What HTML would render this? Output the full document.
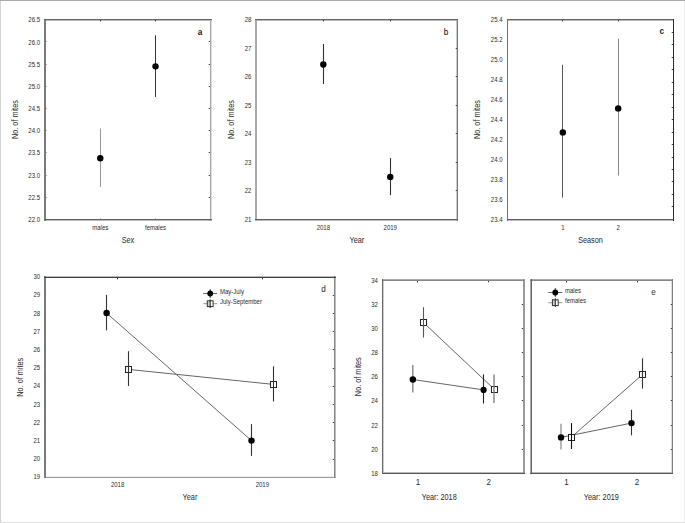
<!DOCTYPE html>
<html><head><meta charset="utf-8"><style>
html,body{margin:0;padding:0;background:#fff;}
body{width:685px;height:523px;overflow:hidden;}
svg{display:block;font-family:"Liberation Sans", sans-serif;}
</style></head><body>
<svg width="685" height="523" viewBox="0 0 685 523">
<rect x="0" y="0" width="685" height="523" fill="#fff"/>
<rect x="211" y="19" width="1" height="202" fill="#ddd" shape-rendering="crispEdges"/>
<rect x="44" y="20" width="168" height="1" fill="#bbb" shape-rendering="crispEdges"/>
<rect x="44" y="220" width="168" height="1" fill="#bbb" shape-rendering="crispEdges"/>
<rect x="210" y="19" width="1" height="202" fill="#aaa" shape-rendering="crispEdges"/>
<rect x="44" y="19" width="1" height="202" fill="#7a7a7a" shape-rendering="crispEdges"/>
<rect x="45" y="19" width="1" height="202" fill="#7a7a7a" shape-rendering="crispEdges"/>
<rect x="44" y="19" width="168" height="1" fill="#666" shape-rendering="crispEdges"/>
<rect x="44" y="219" width="168" height="1" fill="#606060" shape-rendering="crispEdges"/>
<text x="0" y="0" transform="translate(40.00 221.98) scale(1 1.18)" font-size="6.0" text-anchor="end" fill="#2a2a2a" font-weight="normal">22.0</text>
<rect x="46" y="197" width="1" height="1" fill="#aaa" shape-rendering="crispEdges"/>
<rect x="209" y="197" width="1" height="1" fill="#444" shape-rendering="crispEdges"/>
<rect x="208" y="197" width="1" height="1" fill="#ccc" shape-rendering="crispEdges"/>
<text x="0" y="0" transform="translate(40.00 199.81) scale(1 1.18)" font-size="6.0" text-anchor="end" fill="#2a2a2a" font-weight="normal">22.5</text>
<rect x="46" y="175" width="1" height="1" fill="#aaa" shape-rendering="crispEdges"/>
<rect x="209" y="175" width="1" height="1" fill="#444" shape-rendering="crispEdges"/>
<rect x="208" y="175" width="1" height="1" fill="#ccc" shape-rendering="crispEdges"/>
<text x="0" y="0" transform="translate(40.00 177.63) scale(1 1.18)" font-size="6.0" text-anchor="end" fill="#2a2a2a" font-weight="normal">23.0</text>
<rect x="46" y="152" width="1" height="1" fill="#aaa" shape-rendering="crispEdges"/>
<rect x="209" y="152" width="1" height="1" fill="#444" shape-rendering="crispEdges"/>
<rect x="208" y="152" width="1" height="1" fill="#ccc" shape-rendering="crispEdges"/>
<text x="0" y="0" transform="translate(40.00 155.45) scale(1 1.18)" font-size="6.0" text-anchor="end" fill="#2a2a2a" font-weight="normal">23.5</text>
<rect x="46" y="130" width="1" height="1" fill="#aaa" shape-rendering="crispEdges"/>
<rect x="209" y="130" width="1" height="1" fill="#444" shape-rendering="crispEdges"/>
<rect x="208" y="130" width="1" height="1" fill="#ccc" shape-rendering="crispEdges"/>
<text x="0" y="0" transform="translate(40.00 133.27) scale(1 1.18)" font-size="6.0" text-anchor="end" fill="#2a2a2a" font-weight="normal">24.0</text>
<rect x="46" y="108" width="1" height="1" fill="#aaa" shape-rendering="crispEdges"/>
<rect x="209" y="108" width="1" height="1" fill="#444" shape-rendering="crispEdges"/>
<rect x="208" y="108" width="1" height="1" fill="#ccc" shape-rendering="crispEdges"/>
<text x="0" y="0" transform="translate(40.00 111.10) scale(1 1.18)" font-size="6.0" text-anchor="end" fill="#2a2a2a" font-weight="normal">24.5</text>
<rect x="46" y="86" width="1" height="1" fill="#aaa" shape-rendering="crispEdges"/>
<rect x="209" y="86" width="1" height="1" fill="#444" shape-rendering="crispEdges"/>
<rect x="208" y="86" width="1" height="1" fill="#ccc" shape-rendering="crispEdges"/>
<text x="0" y="0" transform="translate(40.00 88.92) scale(1 1.18)" font-size="6.0" text-anchor="end" fill="#2a2a2a" font-weight="normal">25.0</text>
<rect x="46" y="64" width="1" height="1" fill="#aaa" shape-rendering="crispEdges"/>
<rect x="209" y="64" width="1" height="1" fill="#444" shape-rendering="crispEdges"/>
<rect x="208" y="64" width="1" height="1" fill="#ccc" shape-rendering="crispEdges"/>
<text x="0" y="0" transform="translate(40.00 66.74) scale(1 1.18)" font-size="6.0" text-anchor="end" fill="#2a2a2a" font-weight="normal">25.5</text>
<rect x="46" y="41" width="1" height="1" fill="#aaa" shape-rendering="crispEdges"/>
<rect x="209" y="41" width="1" height="1" fill="#444" shape-rendering="crispEdges"/>
<rect x="208" y="41" width="1" height="1" fill="#ccc" shape-rendering="crispEdges"/>
<text x="0" y="0" transform="translate(40.00 44.56) scale(1 1.18)" font-size="6.0" text-anchor="end" fill="#2a2a2a" font-weight="normal">26.0</text>
<text x="0" y="0" transform="translate(40.00 22.38) scale(1 1.18)" font-size="6.0" text-anchor="end" fill="#2a2a2a" font-weight="normal">26.5</text>
<rect x="100" y="20" width="1" height="1" fill="#333" shape-rendering="crispEdges"/>
<rect x="100" y="21" width="1" height="1" fill="#bbb" shape-rendering="crispEdges"/>
<rect x="100" y="218" width="1" height="1" fill="#bbb" shape-rendering="crispEdges"/>
<rect x="155" y="20" width="1" height="1" fill="#333" shape-rendering="crispEdges"/>
<rect x="155" y="21" width="1" height="1" fill="#bbb" shape-rendering="crispEdges"/>
<rect x="155" y="218" width="1" height="1" fill="#bbb" shape-rendering="crispEdges"/>
<line x1="100.50" y1="128.47" x2="100.50" y2="187.02" stroke="#999" stroke-width="1.0" />
<circle cx="100.27" cy="158.19" r="3.2" fill="#000"/>
<line x1="155.50" y1="35.32" x2="155.50" y2="96.98" stroke="#333" stroke-width="1.0" />
<circle cx="155.53" cy="66.37" r="3.2" fill="#000"/>
<text x="0" y="0" transform="translate(100.27 230.00) scale(1 1.18)" font-size="6.0" text-anchor="middle" fill="#2a2a2a" font-weight="normal">males</text>
<text x="0" y="0" transform="translate(155.53 230.00) scale(1 1.18)" font-size="6.0" text-anchor="middle" fill="#2a2a2a" font-weight="normal">females</text>
<text x="0" y="0" transform="translate(127.90 243.00) scale(1 1.18)" font-size="7.3" text-anchor="middle" fill="#2a2a2a" font-weight="normal">Sex</text>
<text x="0" y="0" transform="translate(17.61 119.60) rotate(-90) scale(1 1.18)" font-size="7.3" text-anchor="middle" fill="#2a2a2a" font-weight="normal">No. of mites</text>
<text x="0" y="0" transform="translate(200.00 34.90) scale(1 1.0)" font-size="8.2" text-anchor="middle" fill="#222" font-weight="bold">a</text>
<rect x="456" y="19" width="1" height="202" fill="#ccc" shape-rendering="crispEdges"/>
<rect x="255" y="20" width="203" height="1" fill="#bbb" shape-rendering="crispEdges"/>
<rect x="255" y="220" width="203" height="1" fill="#bbb" shape-rendering="crispEdges"/>
<rect x="255" y="19" width="1" height="202" fill="#aaa" shape-rendering="crispEdges"/>
<rect x="256" y="19" width="1" height="202" fill="#aaa" shape-rendering="crispEdges"/>
<rect x="457" y="19" width="1" height="202" fill="#777" shape-rendering="crispEdges"/>
<rect x="255" y="19" width="203" height="1" fill="#666" shape-rendering="crispEdges"/>
<rect x="255" y="219" width="203" height="1" fill="#606060" shape-rendering="crispEdges"/>
<text x="0" y="0" transform="translate(251.40 221.98) scale(1 1.18)" font-size="6.0" text-anchor="end" fill="#2a2a2a" font-weight="normal">21</text>
<rect x="456" y="190" width="1" height="1" fill="#444" shape-rendering="crispEdges"/>
<rect x="455" y="190" width="1" height="1" fill="#ccc" shape-rendering="crispEdges"/>
<text x="0" y="0" transform="translate(251.40 193.47) scale(1 1.18)" font-size="6.0" text-anchor="end" fill="#2a2a2a" font-weight="normal">22</text>
<rect x="456" y="162" width="1" height="1" fill="#444" shape-rendering="crispEdges"/>
<rect x="455" y="162" width="1" height="1" fill="#ccc" shape-rendering="crispEdges"/>
<text x="0" y="0" transform="translate(251.40 164.96) scale(1 1.18)" font-size="6.0" text-anchor="end" fill="#2a2a2a" font-weight="normal">23</text>
<rect x="456" y="133" width="1" height="1" fill="#444" shape-rendering="crispEdges"/>
<rect x="455" y="133" width="1" height="1" fill="#ccc" shape-rendering="crispEdges"/>
<text x="0" y="0" transform="translate(251.40 136.44) scale(1 1.18)" font-size="6.0" text-anchor="end" fill="#2a2a2a" font-weight="normal">24</text>
<rect x="456" y="105" width="1" height="1" fill="#444" shape-rendering="crispEdges"/>
<rect x="455" y="105" width="1" height="1" fill="#ccc" shape-rendering="crispEdges"/>
<text x="0" y="0" transform="translate(251.40 107.93) scale(1 1.18)" font-size="6.0" text-anchor="end" fill="#2a2a2a" font-weight="normal">25</text>
<rect x="456" y="76" width="1" height="1" fill="#444" shape-rendering="crispEdges"/>
<rect x="455" y="76" width="1" height="1" fill="#ccc" shape-rendering="crispEdges"/>
<text x="0" y="0" transform="translate(251.40 79.41) scale(1 1.18)" font-size="6.0" text-anchor="end" fill="#2a2a2a" font-weight="normal">26</text>
<rect x="456" y="48" width="1" height="1" fill="#444" shape-rendering="crispEdges"/>
<rect x="455" y="48" width="1" height="1" fill="#ccc" shape-rendering="crispEdges"/>
<text x="0" y="0" transform="translate(251.40 50.90) scale(1 1.18)" font-size="6.0" text-anchor="end" fill="#2a2a2a" font-weight="normal">27</text>
<text x="0" y="0" transform="translate(251.40 22.38) scale(1 1.18)" font-size="6.0" text-anchor="end" fill="#2a2a2a" font-weight="normal">28</text>
<rect x="323" y="20" width="1" height="1" fill="#333" shape-rendering="crispEdges"/>
<rect x="323" y="21" width="1" height="1" fill="#bbb" shape-rendering="crispEdges"/>
<rect x="390" y="20" width="1" height="1" fill="#333" shape-rendering="crispEdges"/>
<rect x="390" y="21" width="1" height="1" fill="#bbb" shape-rendering="crispEdges"/>
<line x1="323.50" y1="44.04" x2="323.50" y2="83.96" stroke="#333" stroke-width="1.1" />
<circle cx="323.33" cy="64.57" r="3.2" fill="#000"/>
<line x1="390.50" y1="158.09" x2="390.50" y2="195.16" stroke="#333" stroke-width="1.1" />
<circle cx="390.27" cy="176.91" r="3.2" fill="#000"/>
<text x="0" y="0" transform="translate(323.33 230.00) scale(1 1.18)" font-size="6.0" text-anchor="middle" fill="#2a2a2a" font-weight="normal">2018</text>
<text x="0" y="0" transform="translate(390.27 230.00) scale(1 1.18)" font-size="6.0" text-anchor="middle" fill="#2a2a2a" font-weight="normal">2019</text>
<text x="0" y="0" transform="translate(356.80 243.00) scale(1 1.18)" font-size="7.3" text-anchor="middle" fill="#2a2a2a" font-weight="normal">Year</text>
<text x="0" y="0" transform="translate(233.61 119.60) rotate(-90) scale(1 1.18)" font-size="7.3" text-anchor="middle" fill="#2a2a2a" font-weight="normal">No. of mites</text>
<text x="0" y="0" transform="translate(446.00 34.70) scale(1 1.0)" font-size="8.2" text-anchor="middle" fill="#000" font-weight="normal">b</text>
<rect x="507" y="20" width="167" height="1" fill="#bbb" shape-rendering="crispEdges"/>
<rect x="507" y="220" width="167" height="1" fill="#bbb" shape-rendering="crispEdges"/>
<rect x="507" y="19" width="1" height="202" fill="#707070" shape-rendering="crispEdges"/>
<rect x="507" y="19" width="167" height="1" fill="#666" shape-rendering="crispEdges"/>
<rect x="507" y="219" width="167" height="1" fill="#606060" shape-rendering="crispEdges"/>
<rect x="673" y="19" width="1" height="202" fill="#2a2a2a" shape-rendering="crispEdges"/>
<text x="0" y="0" transform="translate(502.50 221.98) scale(1 1.18)" font-size="6.0" text-anchor="end" fill="#2a2a2a" font-weight="normal">23.4</text>
<text x="0" y="0" transform="translate(502.50 202.02) scale(1 1.18)" font-size="6.0" text-anchor="end" fill="#2a2a2a" font-weight="normal">23.6</text>
<text x="0" y="0" transform="translate(502.50 182.06) scale(1 1.18)" font-size="6.0" text-anchor="end" fill="#2a2a2a" font-weight="normal">23.8</text>
<text x="0" y="0" transform="translate(502.50 162.10) scale(1 1.18)" font-size="6.0" text-anchor="end" fill="#2a2a2a" font-weight="normal">24.0</text>
<text x="0" y="0" transform="translate(502.50 142.14) scale(1 1.18)" font-size="6.0" text-anchor="end" fill="#2a2a2a" font-weight="normal">24.2</text>
<text x="0" y="0" transform="translate(502.50 122.18) scale(1 1.18)" font-size="6.0" text-anchor="end" fill="#2a2a2a" font-weight="normal">24.4</text>
<text x="0" y="0" transform="translate(502.50 102.22) scale(1 1.18)" font-size="6.0" text-anchor="end" fill="#2a2a2a" font-weight="normal">24.6</text>
<text x="0" y="0" transform="translate(502.50 82.26) scale(1 1.18)" font-size="6.0" text-anchor="end" fill="#2a2a2a" font-weight="normal">24.8</text>
<text x="0" y="0" transform="translate(502.50 62.30) scale(1 1.18)" font-size="6.0" text-anchor="end" fill="#2a2a2a" font-weight="normal">25.0</text>
<text x="0" y="0" transform="translate(502.50 42.34) scale(1 1.18)" font-size="6.0" text-anchor="end" fill="#2a2a2a" font-weight="normal">25.2</text>
<text x="0" y="0" transform="translate(502.50 22.38) scale(1 1.18)" font-size="6.0" text-anchor="end" fill="#2a2a2a" font-weight="normal">25.4</text>
<rect x="672" y="32" width="1" height="1" fill="#444" shape-rendering="crispEdges"/>
<rect x="671" y="32" width="1" height="1" fill="#ccc" shape-rendering="crispEdges"/>
<rect x="672" y="44" width="1" height="1" fill="#444" shape-rendering="crispEdges"/>
<rect x="671" y="44" width="1" height="1" fill="#ccc" shape-rendering="crispEdges"/>
<rect x="672" y="57" width="1" height="1" fill="#444" shape-rendering="crispEdges"/>
<rect x="671" y="57" width="1" height="1" fill="#ccc" shape-rendering="crispEdges"/>
<rect x="672" y="69" width="1" height="1" fill="#444" shape-rendering="crispEdges"/>
<rect x="671" y="69" width="1" height="1" fill="#ccc" shape-rendering="crispEdges"/>
<rect x="672" y="82" width="1" height="1" fill="#444" shape-rendering="crispEdges"/>
<rect x="671" y="82" width="1" height="1" fill="#ccc" shape-rendering="crispEdges"/>
<rect x="672" y="94" width="1" height="1" fill="#444" shape-rendering="crispEdges"/>
<rect x="671" y="94" width="1" height="1" fill="#ccc" shape-rendering="crispEdges"/>
<rect x="672" y="107" width="1" height="1" fill="#444" shape-rendering="crispEdges"/>
<rect x="671" y="107" width="1" height="1" fill="#ccc" shape-rendering="crispEdges"/>
<rect x="672" y="119" width="1" height="1" fill="#444" shape-rendering="crispEdges"/>
<rect x="671" y="119" width="1" height="1" fill="#ccc" shape-rendering="crispEdges"/>
<rect x="672" y="132" width="1" height="1" fill="#444" shape-rendering="crispEdges"/>
<rect x="671" y="132" width="1" height="1" fill="#ccc" shape-rendering="crispEdges"/>
<rect x="672" y="144" width="1" height="1" fill="#444" shape-rendering="crispEdges"/>
<rect x="671" y="144" width="1" height="1" fill="#ccc" shape-rendering="crispEdges"/>
<rect x="672" y="157" width="1" height="1" fill="#444" shape-rendering="crispEdges"/>
<rect x="671" y="157" width="1" height="1" fill="#ccc" shape-rendering="crispEdges"/>
<rect x="672" y="169" width="1" height="1" fill="#444" shape-rendering="crispEdges"/>
<rect x="671" y="169" width="1" height="1" fill="#ccc" shape-rendering="crispEdges"/>
<rect x="672" y="181" width="1" height="1" fill="#444" shape-rendering="crispEdges"/>
<rect x="671" y="181" width="1" height="1" fill="#ccc" shape-rendering="crispEdges"/>
<rect x="672" y="194" width="1" height="1" fill="#444" shape-rendering="crispEdges"/>
<rect x="671" y="194" width="1" height="1" fill="#ccc" shape-rendering="crispEdges"/>
<rect x="672" y="206" width="1" height="1" fill="#444" shape-rendering="crispEdges"/>
<rect x="671" y="206" width="1" height="1" fill="#ccc" shape-rendering="crispEdges"/>
<rect x="562" y="20" width="1" height="1" fill="#333" shape-rendering="crispEdges"/>
<rect x="562" y="21" width="1" height="1" fill="#bbb" shape-rendering="crispEdges"/>
<rect x="618" y="20" width="1" height="1" fill="#333" shape-rendering="crispEdges"/>
<rect x="618" y="21" width="1" height="1" fill="#bbb" shape-rendering="crispEdges"/>
<line x1="562.50" y1="64.80" x2="562.50" y2="197.70" stroke="#555" stroke-width="1.0" />
<circle cx="562.83" cy="132.40" r="3.2" fill="#000"/>
<line x1="618.50" y1="38.70" x2="618.50" y2="175.50" stroke="#888" stroke-width="1.0" />
<circle cx="618.17" cy="108.40" r="3.2" fill="#000"/>
<text x="0" y="0" transform="translate(562.83 230.00) scale(1 1.18)" font-size="6.0" text-anchor="middle" fill="#2a2a2a" font-weight="normal">1</text>
<text x="0" y="0" transform="translate(618.17 230.00) scale(1 1.18)" font-size="6.0" text-anchor="middle" fill="#2a2a2a" font-weight="normal">2</text>
<text x="0" y="0" transform="translate(590.50 243.00) scale(1 1.18)" font-size="7.3" text-anchor="middle" fill="#2a2a2a" font-weight="normal">Season</text>
<text x="0" y="0" transform="translate(480.41 119.60) rotate(-90) scale(1 1.18)" font-size="7.3" text-anchor="middle" fill="#2a2a2a" font-weight="normal">No. of mites</text>
<text x="0" y="0" transform="translate(661.70 33.80) scale(1 1.0)" font-size="8.2" text-anchor="middle" fill="#222" font-weight="bold">c</text>
<rect x="44" y="476" width="292" height="1" fill="#eee" shape-rendering="crispEdges"/>
<rect x="44" y="276" width="292" height="1" fill="#bbb" shape-rendering="crispEdges"/>
<rect x="335" y="276" width="1" height="202" fill="#bbb" shape-rendering="crispEdges"/>
<rect x="44" y="477" width="292" height="1" fill="#999" shape-rendering="crispEdges"/>
<rect x="334" y="276" width="1" height="202" fill="#888" shape-rendering="crispEdges"/>
<rect x="44" y="276" width="1" height="202" fill="#7a7a7a" shape-rendering="crispEdges"/>
<rect x="45" y="276" width="1" height="202" fill="#7a7a7a" shape-rendering="crispEdges"/>
<rect x="44" y="277" width="292" height="1" fill="#404040" shape-rendering="crispEdges"/>
<text x="0" y="0" transform="translate(40.20 479.38) scale(1 1.18)" font-size="6.0" text-anchor="end" fill="#2a2a2a" font-weight="normal">19</text>
<rect x="333" y="459" width="1" height="1" fill="#444" shape-rendering="crispEdges"/>
<rect x="332" y="459" width="1" height="1" fill="#ccc" shape-rendering="crispEdges"/>
<text x="0" y="0" transform="translate(40.20 461.19) scale(1 1.18)" font-size="6.0" text-anchor="end" fill="#2a2a2a" font-weight="normal">20</text>
<rect x="333" y="440" width="1" height="1" fill="#444" shape-rendering="crispEdges"/>
<rect x="332" y="440" width="1" height="1" fill="#ccc" shape-rendering="crispEdges"/>
<text x="0" y="0" transform="translate(40.20 443.00) scale(1 1.18)" font-size="6.0" text-anchor="end" fill="#2a2a2a" font-weight="normal">21</text>
<rect x="333" y="422" width="1" height="1" fill="#444" shape-rendering="crispEdges"/>
<rect x="332" y="422" width="1" height="1" fill="#ccc" shape-rendering="crispEdges"/>
<text x="0" y="0" transform="translate(40.20 424.81) scale(1 1.18)" font-size="6.0" text-anchor="end" fill="#2a2a2a" font-weight="normal">22</text>
<rect x="333" y="404" width="1" height="1" fill="#444" shape-rendering="crispEdges"/>
<rect x="332" y="404" width="1" height="1" fill="#ccc" shape-rendering="crispEdges"/>
<text x="0" y="0" transform="translate(40.20 406.62) scale(1 1.18)" font-size="6.0" text-anchor="end" fill="#2a2a2a" font-weight="normal">23</text>
<rect x="333" y="386" width="1" height="1" fill="#444" shape-rendering="crispEdges"/>
<rect x="332" y="386" width="1" height="1" fill="#ccc" shape-rendering="crispEdges"/>
<text x="0" y="0" transform="translate(40.20 388.43) scale(1 1.18)" font-size="6.0" text-anchor="end" fill="#2a2a2a" font-weight="normal">24</text>
<rect x="333" y="368" width="1" height="1" fill="#444" shape-rendering="crispEdges"/>
<rect x="332" y="368" width="1" height="1" fill="#ccc" shape-rendering="crispEdges"/>
<text x="0" y="0" transform="translate(40.20 370.24) scale(1 1.18)" font-size="6.0" text-anchor="end" fill="#2a2a2a" font-weight="normal">25</text>
<rect x="333" y="349" width="1" height="1" fill="#444" shape-rendering="crispEdges"/>
<rect x="332" y="349" width="1" height="1" fill="#ccc" shape-rendering="crispEdges"/>
<text x="0" y="0" transform="translate(40.20 352.05) scale(1 1.18)" font-size="6.0" text-anchor="end" fill="#2a2a2a" font-weight="normal">26</text>
<rect x="333" y="331" width="1" height="1" fill="#444" shape-rendering="crispEdges"/>
<rect x="332" y="331" width="1" height="1" fill="#ccc" shape-rendering="crispEdges"/>
<text x="0" y="0" transform="translate(40.20 333.86) scale(1 1.18)" font-size="6.0" text-anchor="end" fill="#2a2a2a" font-weight="normal">27</text>
<rect x="333" y="313" width="1" height="1" fill="#444" shape-rendering="crispEdges"/>
<rect x="332" y="313" width="1" height="1" fill="#ccc" shape-rendering="crispEdges"/>
<text x="0" y="0" transform="translate(40.20 315.67) scale(1 1.18)" font-size="6.0" text-anchor="end" fill="#2a2a2a" font-weight="normal">28</text>
<rect x="333" y="295" width="1" height="1" fill="#444" shape-rendering="crispEdges"/>
<rect x="332" y="295" width="1" height="1" fill="#ccc" shape-rendering="crispEdges"/>
<text x="0" y="0" transform="translate(40.20 297.48) scale(1 1.18)" font-size="6.0" text-anchor="end" fill="#2a2a2a" font-weight="normal">29</text>
<text x="0" y="0" transform="translate(40.20 279.28) scale(1 1.18)" font-size="6.0" text-anchor="end" fill="#2a2a2a" font-weight="normal">30</text>
<rect x="117" y="278" width="1" height="1" fill="#333" shape-rendering="crispEdges"/>
<rect x="117" y="279" width="1" height="1" fill="#bbb" shape-rendering="crispEdges"/>
<rect x="262" y="278" width="1" height="1" fill="#333" shape-rendering="crispEdges"/>
<rect x="262" y="279" width="1" height="1" fill="#bbb" shape-rendering="crispEdges"/>
<line x1="106.50" y1="313.00" x2="251.50" y2="440.60" stroke="#666" stroke-width="1.0" />
<line x1="128.50" y1="369.40" x2="273.50" y2="384.40" stroke="#666" stroke-width="1.0" />
<line x1="106.50" y1="294.80" x2="106.50" y2="330.30" stroke="#333" stroke-width="1.1" />
<circle cx="106.60" cy="313.00" r="3.2" fill="#000"/>
<line x1="251.50" y1="424.10" x2="251.50" y2="455.90" stroke="#333" stroke-width="1.1" />
<circle cx="251.50" cy="440.60" r="3.2" fill="#000"/>
<rect x="125.50" y="366.50" width="6.00" height="6.00" stroke="#222" stroke-width="1.0" fill="#fff"/>
<line x1="128.50" y1="351.20" x2="128.50" y2="385.90" stroke="#333" stroke-width="1.1" />
<rect x="270.50" y="381.50" width="6.00" height="6.00" stroke="#222" stroke-width="1.0" fill="#fff"/>
<line x1="273.50" y1="366.30" x2="273.50" y2="401.50" stroke="#333" stroke-width="1.1" />
<text x="0" y="0" transform="translate(117.58 487.30) scale(1 1.18)" font-size="6.0" text-anchor="middle" fill="#2a2a2a" font-weight="normal">2018</text>
<text x="0" y="0" transform="translate(262.32 487.30) scale(1 1.18)" font-size="6.0" text-anchor="middle" fill="#2a2a2a" font-weight="normal">2019</text>
<text x="0" y="0" transform="translate(189.95 499.70) scale(1 1.18)" font-size="7.3" text-anchor="middle" fill="#2a2a2a" font-weight="normal">Year</text>
<text x="0" y="0" transform="translate(22.71 377.25) rotate(-90) scale(1 1.18)" font-size="7.3" text-anchor="middle" fill="#2a2a2a" font-weight="normal">No. of mites</text>
<text x="0" y="0" transform="translate(323.50 292.30) scale(1 1.0)" font-size="8.2" text-anchor="middle" fill="#222" font-weight="normal">d</text>
<line x1="203.20" y1="293.50" x2="217.20" y2="293.50" stroke="#666" stroke-width="1.0" />
<line x1="210.20" y1="289.20" x2="210.20" y2="297.80" stroke="#222" stroke-width="1.0" />
<circle cx="210.20" cy="293.50" r="2.9" fill="#000"/>
<line x1="203.20" y1="303.70" x2="207.30" y2="303.70" stroke="#999" stroke-width="1.0" />
<line x1="213.10" y1="303.70" x2="217.20" y2="303.70" stroke="#999" stroke-width="1.0" />
<rect x="207.30" y="300.80" width="2.90" height="5.80" fill="#ccc"/>
<rect x="207.30" y="300.80" width="5.80" height="5.80" stroke="#333" stroke-width="1.0" fill="none"/>
<line x1="210.20" y1="299.40" x2="210.20" y2="308.00" stroke="#222" stroke-width="1.0" />
<text x="0" y="0" transform="translate(220.00 294.30) scale(1 1.18)" font-size="6" text-anchor="start" fill="#2a2a2a" font-weight="normal">May-July</text>
<text x="0" y="0" transform="translate(220.00 304.10) scale(1 1.18)" font-size="6" text-anchor="start" fill="#2a2a2a" font-weight="normal">July-September</text>
<rect x="383" y="279" width="1" height="195" fill="#ccc" shape-rendering="crispEdges"/>
<rect x="382" y="472" width="143" height="1" fill="#bbb" shape-rendering="crispEdges"/>
<rect x="382" y="279" width="143" height="1" fill="#aaa" shape-rendering="crispEdges"/>
<rect x="523" y="279" width="1" height="195" fill="#999" shape-rendering="crispEdges"/>
<rect x="524" y="279" width="1" height="195" fill="#999" shape-rendering="crispEdges"/>
<rect x="382" y="280" width="143" height="1" fill="#888" shape-rendering="crispEdges"/>
<rect x="382" y="279" width="1" height="195" fill="#6a6a6a" shape-rendering="crispEdges"/>
<rect x="382" y="473" width="143" height="1" fill="#555" shape-rendering="crispEdges"/>
<rect x="671" y="279" width="1" height="195" fill="#ddd" shape-rendering="crispEdges"/>
<rect x="530" y="472" width="143" height="1" fill="#bbb" shape-rendering="crispEdges"/>
<rect x="530" y="279" width="143" height="1" fill="#aaa" shape-rendering="crispEdges"/>
<rect x="530" y="279" width="1" height="195" fill="#aaa" shape-rendering="crispEdges"/>
<rect x="530" y="280" width="143" height="1" fill="#888" shape-rendering="crispEdges"/>
<rect x="672" y="279" width="1" height="195" fill="#808080" shape-rendering="crispEdges"/>
<rect x="531" y="279" width="1" height="195" fill="#666" shape-rendering="crispEdges"/>
<rect x="530" y="473" width="143" height="1" fill="#555" shape-rendering="crispEdges"/>
<text x="0" y="0" transform="translate(377.90 475.88) scale(1 1.18)" font-size="6.0" text-anchor="end" fill="#2a2a2a" font-weight="normal">18</text>
<rect x="522" y="449" width="1" height="1" fill="#444" shape-rendering="crispEdges"/>
<rect x="521" y="449" width="1" height="1" fill="#ccc" shape-rendering="crispEdges"/>
<text x="0" y="0" transform="translate(377.90 451.73) scale(1 1.18)" font-size="6.0" text-anchor="end" fill="#2a2a2a" font-weight="normal">20</text>
<rect x="522" y="425" width="1" height="1" fill="#444" shape-rendering="crispEdges"/>
<rect x="521" y="425" width="1" height="1" fill="#ccc" shape-rendering="crispEdges"/>
<text x="0" y="0" transform="translate(377.90 427.58) scale(1 1.18)" font-size="6.0" text-anchor="end" fill="#2a2a2a" font-weight="normal">22</text>
<rect x="522" y="400" width="1" height="1" fill="#444" shape-rendering="crispEdges"/>
<rect x="521" y="400" width="1" height="1" fill="#ccc" shape-rendering="crispEdges"/>
<text x="0" y="0" transform="translate(377.90 403.43) scale(1 1.18)" font-size="6.0" text-anchor="end" fill="#2a2a2a" font-weight="normal">24</text>
<rect x="522" y="376" width="1" height="1" fill="#444" shape-rendering="crispEdges"/>
<rect x="521" y="376" width="1" height="1" fill="#ccc" shape-rendering="crispEdges"/>
<text x="0" y="0" transform="translate(377.90 379.28) scale(1 1.18)" font-size="6.0" text-anchor="end" fill="#2a2a2a" font-weight="normal">26</text>
<rect x="522" y="352" width="1" height="1" fill="#444" shape-rendering="crispEdges"/>
<rect x="521" y="352" width="1" height="1" fill="#ccc" shape-rendering="crispEdges"/>
<text x="0" y="0" transform="translate(377.90 355.13) scale(1 1.18)" font-size="6.0" text-anchor="end" fill="#2a2a2a" font-weight="normal">28</text>
<rect x="522" y="328" width="1" height="1" fill="#444" shape-rendering="crispEdges"/>
<rect x="521" y="328" width="1" height="1" fill="#ccc" shape-rendering="crispEdges"/>
<text x="0" y="0" transform="translate(377.90 330.98) scale(1 1.18)" font-size="6.0" text-anchor="end" fill="#2a2a2a" font-weight="normal">30</text>
<rect x="522" y="304" width="1" height="1" fill="#444" shape-rendering="crispEdges"/>
<rect x="521" y="304" width="1" height="1" fill="#ccc" shape-rendering="crispEdges"/>
<text x="0" y="0" transform="translate(377.90 306.83) scale(1 1.18)" font-size="6.0" text-anchor="end" fill="#2a2a2a" font-weight="normal">32</text>
<text x="0" y="0" transform="translate(377.90 282.68) scale(1 1.18)" font-size="6.0" text-anchor="end" fill="#2a2a2a" font-weight="normal">34</text>
<rect x="671" y="449" width="1" height="1" fill="#444" shape-rendering="crispEdges"/>
<rect x="670" y="449" width="1" height="1" fill="#ccc" shape-rendering="crispEdges"/>
<rect x="671" y="425" width="1" height="1" fill="#444" shape-rendering="crispEdges"/>
<rect x="670" y="425" width="1" height="1" fill="#ccc" shape-rendering="crispEdges"/>
<rect x="671" y="400" width="1" height="1" fill="#444" shape-rendering="crispEdges"/>
<rect x="670" y="400" width="1" height="1" fill="#ccc" shape-rendering="crispEdges"/>
<rect x="671" y="376" width="1" height="1" fill="#444" shape-rendering="crispEdges"/>
<rect x="670" y="376" width="1" height="1" fill="#ccc" shape-rendering="crispEdges"/>
<rect x="671" y="352" width="1" height="1" fill="#444" shape-rendering="crispEdges"/>
<rect x="670" y="352" width="1" height="1" fill="#ccc" shape-rendering="crispEdges"/>
<rect x="671" y="328" width="1" height="1" fill="#444" shape-rendering="crispEdges"/>
<rect x="670" y="328" width="1" height="1" fill="#ccc" shape-rendering="crispEdges"/>
<rect x="671" y="304" width="1" height="1" fill="#444" shape-rendering="crispEdges"/>
<rect x="670" y="304" width="1" height="1" fill="#ccc" shape-rendering="crispEdges"/>
<rect x="417" y="281" width="1" height="1" fill="#333" shape-rendering="crispEdges"/>
<rect x="417" y="282" width="1" height="1" fill="#bbb" shape-rendering="crispEdges"/>
<rect x="488" y="281" width="1" height="1" fill="#333" shape-rendering="crispEdges"/>
<rect x="488" y="282" width="1" height="1" fill="#bbb" shape-rendering="crispEdges"/>
<rect x="566" y="281" width="1" height="1" fill="#333" shape-rendering="crispEdges"/>
<rect x="566" y="282" width="1" height="1" fill="#bbb" shape-rendering="crispEdges"/>
<rect x="637" y="281" width="1" height="1" fill="#333" shape-rendering="crispEdges"/>
<rect x="637" y="282" width="1" height="1" fill="#bbb" shape-rendering="crispEdges"/>
<line x1="412.85" y1="379.50" x2="483.60" y2="389.90" stroke="#666" stroke-width="1.0" />
<line x1="423.50" y1="322.60" x2="494.50" y2="389.50" stroke="#666" stroke-width="1.0" />
<line x1="412.80" y1="364.90" x2="412.80" y2="392.60" stroke="#888" stroke-width="1.4" />
<circle cx="412.85" cy="379.50" r="3.2" fill="#000"/>
<line x1="483.50" y1="374.40" x2="483.50" y2="403.60" stroke="#222" stroke-width="1.1" />
<circle cx="483.60" cy="389.90" r="3.1" fill="#000"/>
<rect x="420.50" y="319.50" width="6.00" height="6.00" stroke="#222" stroke-width="1.0" fill="#fff"/>
<line x1="423.50" y1="307.20" x2="423.50" y2="337.50" stroke="#555" stroke-width="1.1" />
<rect x="491.50" y="386.50" width="6.00" height="6.00" stroke="#222" stroke-width="1.0" fill="#fff"/>
<line x1="494.00" y1="374.40" x2="494.00" y2="402.90" stroke="#777" stroke-width="1.3" />
<line x1="561.00" y1="437.40" x2="631.50" y2="423.10" stroke="#666" stroke-width="1.0" />
<line x1="571.50" y1="437.00" x2="642.50" y2="374.50" stroke="#666" stroke-width="1.0" />
<line x1="561.00" y1="423.80" x2="561.00" y2="449.50" stroke="#999" stroke-width="1.4" />
<circle cx="561.00" cy="437.40" r="3.2" fill="#000"/>
<line x1="631.50" y1="409.80" x2="631.50" y2="435.30" stroke="#333" stroke-width="1.1" />
<circle cx="631.50" cy="423.10" r="3.2" fill="#000"/>
<rect x="568.50" y="434.50" width="6.00" height="6.00" stroke="#222" stroke-width="1.0" fill="#fff"/>
<line x1="571.50" y1="423.10" x2="571.50" y2="449.00" stroke="#111" stroke-width="1.1" />
<rect x="639.50" y="371.50" width="6.00" height="6.00" stroke="#222" stroke-width="1.0" fill="#fff"/>
<line x1="642.50" y1="358.30" x2="642.50" y2="388.60" stroke="#333" stroke-width="1.1" />
<text x="0" y="0" transform="translate(417.88 485.00) scale(1 1.18)" font-size="8" text-anchor="middle" fill="#2a2a2a" font-weight="normal">1</text>
<text x="0" y="0" transform="translate(488.62 485.00) scale(1 1.18)" font-size="8" text-anchor="middle" fill="#2a2a2a" font-weight="normal">2</text>
<text x="0" y="0" transform="translate(566.35 485.00) scale(1 1.18)" font-size="8" text-anchor="middle" fill="#2a2a2a" font-weight="normal">1</text>
<text x="0" y="0" transform="translate(637.05 485.00) scale(1 1.18)" font-size="8" text-anchor="middle" fill="#2a2a2a" font-weight="normal">2</text>
<text x="0" y="0" transform="translate(439.20 499.50) scale(1 1.18)" font-size="7.3" text-anchor="middle" fill="#2a2a2a" font-weight="normal">Year: 2018</text>
<text x="0" y="0" transform="translate(601.30 499.50) scale(1 1.18)" font-size="7.3" text-anchor="middle" fill="#2a2a2a" font-weight="normal">Year: 2019</text>
<text x="0" y="0" transform="translate(360.61 376.70) rotate(-90) scale(1 1.18)" font-size="7.3" text-anchor="middle" fill="#2a2a2a" font-weight="normal">No. of mites</text>
<text x="0" y="0" transform="translate(653.50 294.90) scale(1 1.0)" font-size="8.2" text-anchor="middle" fill="#333" font-weight="normal">e</text>
<line x1="548.30" y1="292.50" x2="562.30" y2="292.50" stroke="#666" stroke-width="1.0" />
<line x1="555.30" y1="288.20" x2="555.30" y2="296.80" stroke="#222" stroke-width="1.0" />
<circle cx="555.30" cy="292.50" r="2.9" fill="#000"/>
<line x1="548.30" y1="302.70" x2="552.40" y2="302.70" stroke="#999" stroke-width="1.0" />
<line x1="558.20" y1="302.70" x2="562.30" y2="302.70" stroke="#999" stroke-width="1.0" />
<rect x="552.40" y="299.80" width="2.90" height="5.80" fill="#ccc"/>
<rect x="552.40" y="299.80" width="5.80" height="5.80" stroke="#333" stroke-width="1.0" fill="none"/>
<line x1="555.30" y1="298.40" x2="555.30" y2="307.00" stroke="#222" stroke-width="1.0" />
<text x="0" y="0" transform="translate(565.00 293.20) scale(1 1.18)" font-size="6" text-anchor="start" fill="#2a2a2a" font-weight="normal">males</text>
<text x="0" y="0" transform="translate(565.00 303.40) scale(1 1.18)" font-size="6" text-anchor="start" fill="#2a2a2a" font-weight="normal">females</text>
<rect x="0" y="0" width="1" height="523" fill="#d3d3d3"/>
<rect x="684" y="0" width="1" height="523" fill="#ebebeb"/>
<rect x="0" y="522" width="685" height="1" fill="#dedede"/>
<rect x="0" y="0" width="685" height="1" fill="#aaa"/>
</svg>
</body></html>
